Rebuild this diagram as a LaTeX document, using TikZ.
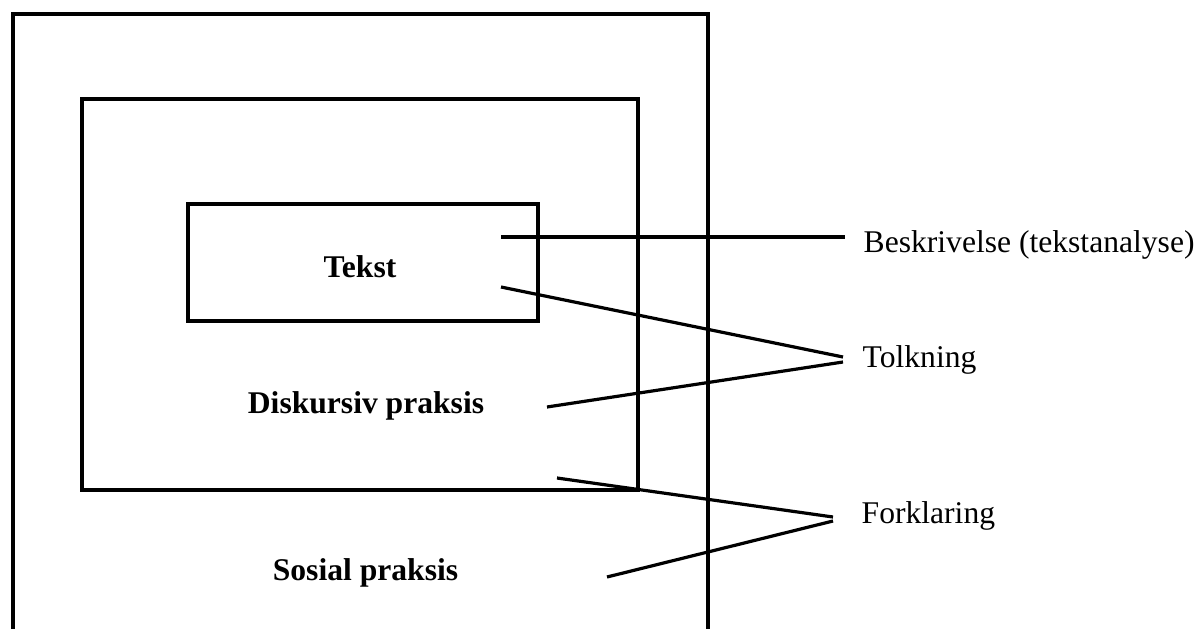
\documentclass[tikz,border=0pt]{standalone}
\usepackage{fontspec}
\setmainfont{Liberation Serif}
\usepackage{tikz}
\usetikzlibrary{positioning}
\begin{document}
\begin{tikzpicture}[x=1pt,y=-1pt,line width=3.4pt,line cap=rect,
	font=\fontsize{31.6}{36}\selectfont]
		\tikzstyle{boxstyle} = [draw,line width=3.4pt,rectangle,inner sep=0pt,outer sep=0pt]
		\tikzstyle{titlestyle} = [inner sep=0pt,anchor=base,font=\fontsize{31.6}{36}\selectfont\bfseries]
		\tikzstyle{labelstyle} = [inner sep=0pt,anchor=base west]
		\tikzstyle{linkstyle} = [line width=3.2pt,line cap=butt]
		\useasboundingbox (0,0) rectangle (1200,629);
		% the three frames
		\node[boxstyle,minimum width=695pt,minimum height=650pt] (sosialbox) at (360.5,339) {};
		\node[boxstyle,minimum width=556pt,minimum height=391pt] (diskbox) at (360,294.5) {};
		\node[boxstyle,minimum width=350pt,minimum height=117pt] (tekstbox) at (363,262.5) {};
		% frame titles
		\node[titlestyle] (tekst) at (360,277) {Tekst};
		\node[titlestyle] (disk) at (366,413) {Diskursiv praksis};
		\node[titlestyle] (sosial) at (365.5,580) {Sosial praksis};
		% analysis levels
		\node[labelstyle] (beskr) at (862,252) {Beskrivelse (tekstanalyse)};
		\node[labelstyle] (tolk) at (861,367) {Tolkning};
		\node[labelstyle] (forkl) at (860,523) {Forklaring};
		% connectors
		\coordinate (b1) at (501,237);
		\coordinate (t1) at (501,287);
		\coordinate (t2) at (547,407);
		\coordinate (f1) at (557,478);
		\coordinate (f2) at (607,577);
		\draw[linkstyle] (b1) -- ([xshift=-17pt]beskr.base west |- b1);
		\draw[linkstyle] (t1) -- ([xshift=-18pt,yshift=10pt]tolk.base west);
		\draw[linkstyle] (t2) -- ([xshift=-18pt,yshift=5pt]tolk.base west);
		\draw[linkstyle] (f1) -- ([xshift=-27pt,yshift=6pt]forkl.base west);
		\draw[linkstyle] (f2) -- ([xshift=-27pt,yshift=2pt]forkl.base west);
\end{tikzpicture}
\end{document}
